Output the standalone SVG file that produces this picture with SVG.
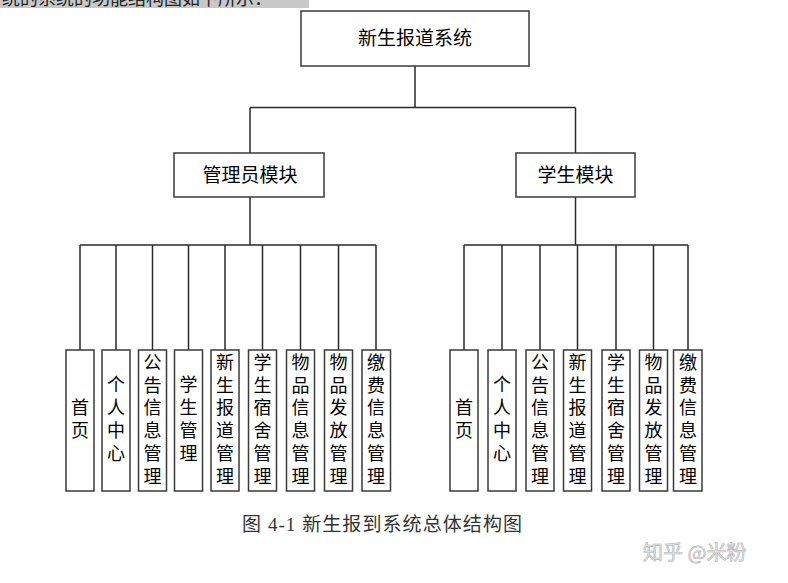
<svg xmlns="http://www.w3.org/2000/svg" width="788" height="583" viewBox="0 0 788 583">
<style>
.box{fill:#fff;stroke:#3a3a3a;stroke-width:1.5}
.ln{fill:none;stroke:#2a2a2a;stroke-width:1.5}
.t{font-family:"Noto Sans CJK SC","Noto Sans",sans-serif;font-size:19px;fill:#000;text-anchor:middle}
.v{font-family:"Noto Sans CJK SC","Noto Sans",sans-serif;font-size:18px;fill:#000;text-anchor:middle}
.cap{font-family:"Liberation Serif","Noto Sans CJK SC",serif;font-size:19px;fill:#333}
.wm{font-family:"Noto Sans CJK SC","Noto Sans",sans-serif;font-size:20px;fill:#e6e6e6;stroke:#b4b4b4;stroke-width:0.6}
</style>
<defs><clipPath id="bar"><rect x="0" y="0" width="309" height="8"/></clipPath></defs>
<rect width="788" height="583" fill="#fff"/>
<g id="header-bar">
<rect x="0" y="0" width="309" height="8" fill="#c8c8c8"/>
<text x="2" y="5" clip-path="url(#bar)" style="font-family:'Noto Sans CJK SC',sans-serif;font-size:18px;fill:#222">统的系统的功能结构图如下所示：</text>
</g>
<g id="connectors">
<path class="ln" d="M415,66V107.5M250,107.5H575.5M250,107.5V153M575.5,107.5V153"/>
<path class="ln" d="M250,197V245M80,245H376M80,245V350M116,245V350M152.5,245V350M188.5,245V350M225,245V350M262.5,245V350M300.5,245V350M338.5,245V350M376,245V350"/>
<path class="ln" d="M575.5,197V245M464,245H688M464,245V350M502,245V350M540,245V350M577.5,245V350M616,245V350M653.5,245V350M688,245V350"/>
</g>
<g id="root"><rect class="box" x="301" y="11" width="228" height="55"/><text class="t" x="415" y="45">新生报道系统</text></g>
<g id="admin"><rect class="box" x="174" y="153" width="150" height="44"/><text class="t" x="250" y="182">管理员模块</text></g>
<g id="student"><rect class="box" x="516" y="153" width="119" height="44"/><text class="t" x="575.5" y="182">学生模块</text></g>
<g id="a1"><rect class="box" x="66" y="350" width="28" height="141"/><text class="v"><tspan x="80" y="414">首</tspan><tspan x="80" y="437">页</tspan></text></g>
<g id="a2"><rect class="box" x="102" y="350" width="28" height="141"/><text class="v"><tspan x="116" y="391">个</tspan><tspan x="116" y="414">人</tspan><tspan x="116" y="437">中</tspan><tspan x="116" y="460">心</tspan></text></g>
<g id="a3"><rect class="box" x="138.5" y="350" width="28" height="141"/><text class="v"><tspan x="152.5" y="369">公</tspan><tspan x="152.5" y="392">告</tspan><tspan x="152.5" y="414">信</tspan><tspan x="152.5" y="437">息</tspan><tspan x="152.5" y="460">管</tspan><tspan x="152.5" y="483">理</tspan></text></g>
<g id="a4"><rect class="box" x="174.5" y="350" width="28" height="141"/><text class="v"><tspan x="188.5" y="391">学</tspan><tspan x="188.5" y="414">生</tspan><tspan x="188.5" y="437">管</tspan><tspan x="188.5" y="460">理</tspan></text></g>
<g id="a5"><rect class="box" x="211" y="350" width="28" height="141"/><text class="v"><tspan x="225" y="369">新</tspan><tspan x="225" y="392">生</tspan><tspan x="225" y="414">报</tspan><tspan x="225" y="437">道</tspan><tspan x="225" y="460">管</tspan><tspan x="225" y="483">理</tspan></text></g>
<g id="a6"><rect class="box" x="248.5" y="350" width="28" height="141"/><text class="v"><tspan x="262.5" y="369">学</tspan><tspan x="262.5" y="392">生</tspan><tspan x="262.5" y="414">宿</tspan><tspan x="262.5" y="437">舍</tspan><tspan x="262.5" y="460">管</tspan><tspan x="262.5" y="483">理</tspan></text></g>
<g id="a7"><rect class="box" x="286.5" y="350" width="28" height="141"/><text class="v"><tspan x="300.5" y="369">物</tspan><tspan x="300.5" y="392">品</tspan><tspan x="300.5" y="414">信</tspan><tspan x="300.5" y="437">息</tspan><tspan x="300.5" y="460">管</tspan><tspan x="300.5" y="483">理</tspan></text></g>
<g id="a8"><rect class="box" x="324.5" y="350" width="28" height="141"/><text class="v"><tspan x="338.5" y="369">物</tspan><tspan x="338.5" y="392">品</tspan><tspan x="338.5" y="414">发</tspan><tspan x="338.5" y="437">放</tspan><tspan x="338.5" y="460">管</tspan><tspan x="338.5" y="483">理</tspan></text></g>
<g id="a9"><rect class="box" x="362" y="350" width="28.5" height="141"/><text class="v"><tspan x="376" y="369">缴</tspan><tspan x="376" y="392">费</tspan><tspan x="376" y="414">信</tspan><tspan x="376" y="437">息</tspan><tspan x="376" y="460">管</tspan><tspan x="376" y="483">理</tspan></text></g>
<g id="s1"><rect class="box" x="450" y="350" width="28" height="141"/><text class="v"><tspan x="464" y="414">首</tspan><tspan x="464" y="437">页</tspan></text></g>
<g id="s2"><rect class="box" x="488" y="350" width="28" height="141"/><text class="v"><tspan x="502" y="391">个</tspan><tspan x="502" y="414">人</tspan><tspan x="502" y="437">中</tspan><tspan x="502" y="460">心</tspan></text></g>
<g id="s3"><rect class="box" x="526" y="350" width="28" height="141"/><text class="v"><tspan x="540" y="369">公</tspan><tspan x="540" y="392">告</tspan><tspan x="540" y="414">信</tspan><tspan x="540" y="437">息</tspan><tspan x="540" y="460">管</tspan><tspan x="540" y="483">理</tspan></text></g>
<g id="s4"><rect class="box" x="563.5" y="350" width="28" height="141"/><text class="v"><tspan x="577.5" y="369">新</tspan><tspan x="577.5" y="392">生</tspan><tspan x="577.5" y="414">报</tspan><tspan x="577.5" y="437">道</tspan><tspan x="577.5" y="460">管</tspan><tspan x="577.5" y="483">理</tspan></text></g>
<g id="s5"><rect class="box" x="602" y="350" width="28" height="141"/><text class="v"><tspan x="616" y="369">学</tspan><tspan x="616" y="392">生</tspan><tspan x="616" y="414">宿</tspan><tspan x="616" y="437">舍</tspan><tspan x="616" y="460">管</tspan><tspan x="616" y="483">理</tspan></text></g>
<g id="s6"><rect class="box" x="639.5" y="350" width="28" height="141"/><text class="v"><tspan x="653.5" y="369">物</tspan><tspan x="653.5" y="392">品</tspan><tspan x="653.5" y="414">发</tspan><tspan x="653.5" y="437">放</tspan><tspan x="653.5" y="460">管</tspan><tspan x="653.5" y="483">理</tspan></text></g>
<g id="s7"><rect class="box" x="673.5" y="350" width="28.5" height="141"/><text class="v"><tspan x="688" y="369">缴</tspan><tspan x="688" y="392">费</tspan><tspan x="688" y="414">信</tspan><tspan x="688" y="437">息</tspan><tspan x="688" y="460">管</tspan><tspan x="688" y="483">理</tspan></text></g>
<text class="cap" x="242" y="531" textLength="280" lengthAdjust="spacing">图 4-1  新生报到系统总体结构图</text>
<text class="wm" x="643" y="560">知乎 @米粉</text>
</svg>
